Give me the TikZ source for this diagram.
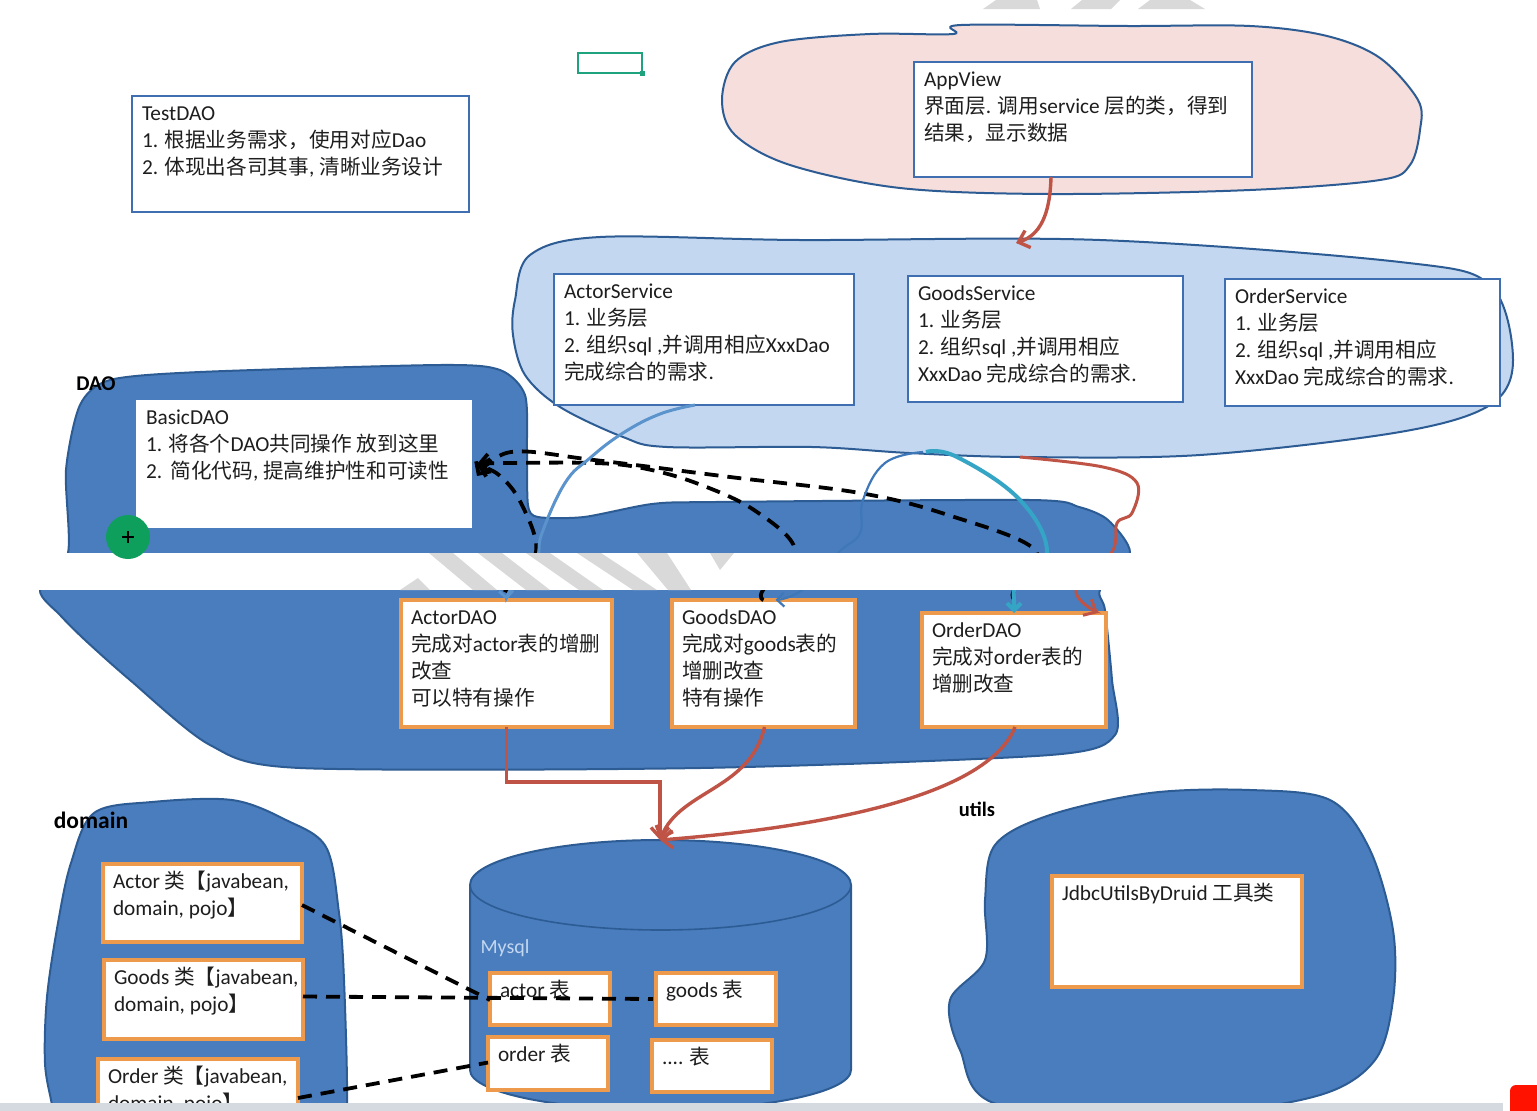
\documentclass[tikz,border=0pt]{standalone}
\usepackage{fontspec}
\setmainfont{Carlito}
\newfontfamily\cjk{Noto Sans CJK SC}[Scale=0.97]
\newcommand\zh[1]{\smash{\cjk #1}}
\usetikzlibrary{arrows.meta}
\definecolor{boxblue}{HTML}{3F6FB0}
\definecolor{boxorange}{HTML}{EE9A4D}
\definecolor{blobdark}{HTML}{4A7DBE}
\definecolor{blobline}{HTML}{2C5C93}
\definecolor{blobpale}{HTML}{C3D7F0}
\definecolor{blobpink}{HTML}{F5DEDB}
\definecolor{redline}{HTML}{BE5346}
\definecolor{blueline}{HTML}{5B93CC}
\definecolor{thinline}{HTML}{3F78B8}
\definecolor{tealline}{HTML}{35A5C6}
\definecolor{wmgrey}{HTML}{D9D9D9}
\definecolor{bargrey}{HTML}{D5D9E0}
\definecolor{txtc}{HTML}{1E1E1E}
\definecolor{cursorgreen}{HTML}{0E9F5D}
\definecolor{selgreen}{HTML}{1FA37F}
\tikzset{
  bluebox/.style={draw=boxblue,line width=2.8pt,fill=white,outer sep=0pt,inner xsep=5pt,inner ysep=0pt,text=txtc,font=\fontsize{21.3}{27}\selectfont},
  orangebox/.style={bluebox,draw=boxorange,line width=3.2pt},
  plainbox/.style={bluebox,draw=none},
  blob/.style={draw=blobline,line width=2pt,fill=#1},
  wm/.style={fill=wmgrey,draw=none},
  tag/.style={font=\fontsize{#1}{24}\selectfont\bfseries,text=black,inner sep=0pt},
  redconn/.style={draw=redline,line width=3.4pt,-{Straight Barb[length=10pt,width=18pt]}},
  blueconn/.style={draw=blueline,line width=3pt,-{Straight Barb[length=7pt,width=14pt]}},
  thinconn/.style={blueconn,draw=thinline,line width=2.2pt},
  tealconn/.style={blueconn,draw=tealline,line width=4pt},
  dashconn/.style={draw=black,line width=3.8pt,dash pattern=on 14pt off 9pt},
  dasharrow/.style={dashconn,-{Straight Barb[length=9pt,width=18pt]}},
}
\newcommand\bx[6]{\node[#1,anchor=north west] (#2) at (#3,#4) {\parbox[c][#6pt][t]{\dimexpr#5pt-10pt\relax}{\vspace{9.5pt}\raggedright\leftskip=5pt\relax\rightskip=0pt minus 10pt\relax\rule{0pt}{14.5pt}\csname #2text\endcsname}};}
\begin{document}
\begin{tikzpicture}[x=1pt,y=-1pt]
\useasboundingbox (0,0) rectangle (1537,1111);
\clip (0,0) rectangle (1537,1111);
\fill[white] (0,0) rectangle (1537,1111);
% watermark, top
\fill[wm] (983,9) -- (996,0) -- (1037,0) -- (1040,9) -- cycle;
\fill[wm] (1071,9) -- (1082,0) -- (1120,0) -- (1111,9) -- cycle;
\fill[wm] (1138,9) -- (1150,0) -- (1190,0) -- (1205,9) -- cycle;
% layer blobs
\draw[blob=blobpink] plot[smooth cycle,tension=.55] coordinates {(953,34) (961,25) (1128,26) (1250,26) (1327,36) (1380,58) (1418,100) (1420,130) (1410,165) (1380,180) (1250,190) (1050,194) (900,188) (790,165) (735,135) (722,100) (735,62) (780,42) (870,34)};
\draw[blob=blobpale] plot[smooth cycle,tension=.55] coordinates {(515,300) (530,255) (600,237) (800,240) (1100,240) (1400,262) (1490,285) (1513,360) (1490,405) (1400,432) (1200,455) (1020,457) (909,453) (812,447) (667,447) (623,437) (560,407) (525,375) (513,335)};
\draw[blob=blobdark] plot[smooth cycle,tension=.45] coordinates {(66,470) (80,405) (110,380) (200,372) (440,365) (500,370) (525,395) (527,450) (528,505) (538,517) (584,517) (652,504) (715,502) (1030,500) (1079,507) (1108,520) (1130,553) (1100,590) (1105,610) (1112,680) (1115,735) (1050,755) (700,768) (300,768) (210,745) (130,680) (85,640) (60,615) (40,590) (68,553)};
\draw[blob=blobdark] plot[smooth cycle,tension=.55] coordinates {(60,1150) (52,1105) (45,1063) (47,997) (58,923) (71,863) (94,813) (152,802) (232,800) (286,820) (326,847) (339,913) (344,980) (347,1105) (340,1150)};
\draw[blob=blobdark] plot[smooth cycle,tension=.55] coordinates {(950,1000) (985,960) (985,900) (995,845) (1050,815) (1150,793) (1250,790) (1330,800) (1370,850) (1393,930) (1393,1000) (1375,1060) (1320,1095) (1200,1112) (1000,1105) (960,1050)};
% database cylinder
\coordinate (dbtop) at (660,840);
\draw[blob=blobdark] (470,885) arc[start angle=180,end angle=360,x radius=190.5,y radius=45] -- (851,1070) arc[start angle=0,end angle=180,x radius=190.5,y radius=40] -- cycle;
\draw[blobline,line width=1.6pt] (470,885) arc[start angle=180,end angle=0,x radius=190.5,y radius=45];
\node[font=\fontsize{20}{24}\selectfont,text=blobpale,inner sep=0pt] (mysql) at (505,948) {Mysql};
% boxes
\def\TestDAOtext{TestDAO\\1. \zh{根据业务需求，使用对应}Dao\\2. \zh{体现出各司其事}, \zh{清晰业务设计}}
\bx{bluebox}{TestDAO}{132}{96}{337}{116}
\def\AppViewtext{AppView\\\zh{界面层}. \zh{调用}service \zh{层的类，得到}\\\zh{结果，显示数据}}
\bx{bluebox}{AppView}{914}{62}{338}{115}
\def\ActorServicetext{ActorService\\1. \zh{业务层}\\2. \zh{组织}sql ,\zh{并调用相应}XxxDao\\\zh{完成综合的需求}.}
\bx{bluebox}{ActorService}{554}{274}{300}{131}
\def\GoodsServicetext{GoodsService\\1. \zh{业务层}\\2. \zh{组织}sql ,\zh{并调用相应}\\XxxDao \zh{完成综合的需求}.}
\bx{bluebox}{GoodsService}{908}{276}{275}{126}
\def\OrderServicetext{OrderService\\1. \zh{业务层}\\2. \zh{组织}sql ,\zh{并调用相应}\\XxxDao \zh{完成综合的需求}.}
\bx{bluebox}{OrderService}{1225}{279}{275}{127}
\def\BasicDAOtext{BasicDAO\\1. \zh{将各个}DAO\zh{共同操作 放到这里}\\2.~\,\zh{简化代码}, \zh{提高维护性和可读性}}
\bx{plainbox}{BasicDAO}{136}{400}{336}{128}
\def\ActorDAOtext{ActorDAO\\\zh{完成对}actor\zh{表的增删}\\\zh{改查}\\\zh{可以特有操作}}
\bx{orangebox}{ActorDAO}{401}{600}{211}{127}
\def\GoodsDAOtext{GoodsDAO\\\zh{完成对}goods\zh{表的}\\\zh{增删改查}\\\zh{特有操作}}
\bx{orangebox}{GoodsDAO}{672}{600}{183}{127}
\def\OrderDAOtext{OrderDAO\\\zh{完成对}order\zh{表的}\\\zh{增删改查}}
\bx{orangebox}{OrderDAO}{922}{613}{184}{114}
% connectors between the layers, hidden by the white band
\draw[redconn] ([xshift=-32pt]AppView.south) .. controls (1050,215) and (1040,235) .. (1016,243);
\draw[dasharrow,dash phase=14pt] plot[smooth,tension=.6] coordinates {(ActorDAO.north) (506,590) (536,552) (521,503) (499,475) ([xshift=5pt,yshift=-1pt]BasicDAO.east)};
\draw[dasharrow] plot[smooth,tension=.6] coordinates {(GoodsDAO.north) (763,590) (795,550) (754,510) (696,483) (642,468) (594,463) (506,463) ([xshift=5pt]BasicDAO.east)};
\draw[dasharrow,dash phase=14pt] plot[smooth,tension=.6] coordinates {(1014,613) (1014,600) (1014,590) (1035,550) (948,515) (860,493) (730,477) (594,460) (511,452) ([xshift=5pt,yshift=-12pt]BasicDAO.east)};
\draw[blueconn] plot[smooth,tension=.7] coordinates {([xshift=-9pt]ActorService.south) (660,414) (623,433) (590,458) (565,483) (542,533) (536,560) (512,588) (ActorDAO.north)};
\draw[thinconn] plot[smooth,tension=.7] coordinates {(923,452) (885,463) (863,500) (860,533) (839,552) (802,590) ([xshift=12pt]GoodsDAO.north)};
\draw[tealconn] plot[smooth,tension=.7] coordinates {(926,452) (957,457) (1020,500) (1047,552) (1020,575) (1014,590) (1014,600) (OrderDAO.north)};
\draw[redconn,line width=3pt] plot[smooth,tension=.6] coordinates {(1020,457) (1103,467) (1137,483) (1132,513) (1117,523) (1112,552) (1076,590) ([xshift=-8pt]OrderDAO.north east)};
% white band and watermark across it
\fill[white] (0,553) rectangle (1537,590);
\fill[wm] (429,553) -- (453,553) -- (497,590) -- (473,590) -- cycle;
\fill[wm] (478,553) -- (502,553) -- (550,590) -- (526,590) -- cycle;
\fill[wm] (526,553) -- (550,553) -- (603,590) -- (579,590) -- cycle;
\fill[wm] (577,553) -- (601,553) -- (657,590) -- (633,590) -- cycle;
\fill[wm] (637,553) -- (667,553) -- (691,590) -- (668,590) -- cycle;
\fill[wm] (710,553) -- (734,553) -- (720,570) -- cycle;
\fill[wm] (400,590) -- (418,578) -- (430,590) -- cycle;
% tags
\node[tag=21] (daotag) at (96,384) {DAO};
\node[tag=23.5] (domaintag) at (91,820) {domain};
\node[tag=20.5] (utilstag) at (977,809) {utils};
% domain boxes
\def\Actortext{\mbox{Actor \zh{类【}javabean,}\\domain, pojo\zh{】}}
\bx{orangebox}{Actor}{103}{864}{199}{78}
\def\Goodstext{\mbox{Goods \zh{类【}javabean,}\\domain, pojo\zh{】}}
\bx{orangebox}{Goods}{104}{960}{199}{79}
\def\Ordertext{\mbox{Order \zh{类【}javabean,}\\domain, pojo\zh{】}}
\bx{orangebox}{Order}{98}{1059}{200}{80}
% tables
\def\tactortext{actor \zh{表}}
\bx{orangebox}{tactor}{490}{973}{120}{52}
\def\tgoodstext{goods \zh{表}}
\bx{orangebox}{tgoods}{656}{973}{120}{52}
\def\tordertext{order \zh{表}}
\bx{orangebox}{torder}{488}{1037}{120}{53}
\def\tmoretext{.... \zh{表}}
\bx{orangebox}{tmore}{652}{1040}{120}{52}
\def\Jdbctext{JdbcUtilsByDruid \zh{工具类}}
\bx{orangebox}{Jdbc}{1052}{876}{250}{111}
% green selection mark
\draw[draw=selgreen,line width=2.8pt,fill=white] (578,53) rectangle (642,73);
\fill[selgreen] (640,71) rectangle (645,76);
% connectors to the database
\draw[redconn] (ActorDAO.south) -- ++(0,55) -| (dbtop);
\draw[redconn] ([xshift=1pt]GoodsDAO.south) .. controls (750,790) and (680,790) .. (dbtop);
\draw[redconn] ([xshift=1pt]OrderDAO.south) .. controls (990,790) and (850,825) .. (dbtop);
% domain to table
\draw[dashconn] ([yshift=-2pt]Actor.east) -- ([yshift=-1pt]tactor.west);
\draw[dashconn] ([yshift=3pt]Goods.east) -- ([xshift=-3pt]tgoods.west);
\draw[dashconn] ([yshift=1pt]Order.east) -- ([yshift=1pt]torder.west);
% cursor
\fill[cursorgreen] (128,537) circle (22);
\draw[black,line width=2pt] (122,537) -- (134,537) (128,531) -- (128,543);
% window chrome
\fill[bargrey] (0,1103) rectangle (1505,1111);
\fill[white] (1503,1078) rectangle (1537,1111);
\fill[red!85!orange,rounded corners=6pt] (1510,1085) rectangle (1550,1125);
\end{tikzpicture}
\end{document}
